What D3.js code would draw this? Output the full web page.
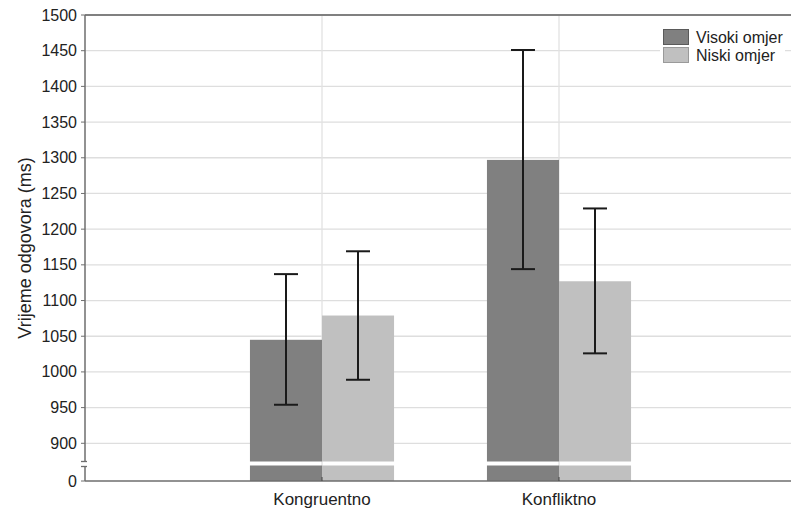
<!DOCTYPE html>
<html>
<head>
<meta charset="utf-8">
<script src="https://cdn.jsdelivr.net/npm/d3@7"></script>
<style>
body { margin: 0; background: #fff; }
text { font-family: "Liberation Sans", Arial, sans-serif; fill: #222; }
</style>
</head>
<body>
<div id="my_dataviz"></div>
<script>
var categories = ["Kongruentno", "Konfliktno"];
var seriesNames = ["Visoki omjer", "Niski omjer"];
var seriesColors = ["#808080", "#c0c0c0"];
// mean, lower and upper error per category
var visokiMean = [1045, 1297];
var visokiLow = [954, 1144];
var visokiHigh = [1137, 1451];
var niskiMean = [1079, 1127];
var niskiLow = [989, 1026];
var niskiHigh = [1169, 1229];
var yTicks = [900, 950, 1000, 1050, 1100, 1150, 1200, 1250, 1300, 1350, 1400, 1450, 1500];

var width = 791, height = 511;
var plotLeft = 85, plotTop = 15, plotBottom = 481;
var breakTop = 461.5, breakBottom = 465.5;

var svg = d3.select("#my_dataviz")
    .append("svg")
    .attr("width", width)
    .attr("height", height);

var xAxis = d3.scaleLinear().domain([0, 3]).range([plotLeft, 796]);
var yAxis = d3.scaleLinear().domain([900, 1500]).range([443.3, plotTop]);
var yLow = d3.scaleLinear().domain([0, 100]).range([plotBottom, plotBottom - 100]);

// grid
svg.append("g").selectAll("line")
    .data(yTicks)
    .enter()
    .append("line")
    .attr("x1", plotLeft).attr("x2", width)
    .attr("y1", function (d) { return yAxis(d); })
    .attr("y2", function (d) { return yAxis(d); })
    .attr("stroke", "#dedede")
    .attr("stroke-width", 1.3);

svg.append("g").selectAll("line")
    .data(categories)
    .enter()
    .append("line")
    .attr("x1", function (d, i) { return xAxis(i + 1); })
    .attr("x2", function (d, i) { return xAxis(i + 1); })
    .attr("y1", plotTop).attr("y2", plotBottom)
    .attr("stroke", "#e2e2e2")
    .attr("stroke-width", 1.3);

var series = [
    { mean: visokiMean, low: visokiLow, high: visokiHigh },
    { mean: niskiMean, low: niskiLow, high: niskiHigh }
];
var barW = 0.304;

series.forEach(function (s, k) {
    var g = svg.append("g");
    var xStart = function (i) { return xAxis(i + 1 + (k == 0 ? -barW : 0)); };
    var w = xAxis(barW) - xAxis(0);
    // upper part above the break
    g.selectAll(".up")
        .data(s.mean)
        .enter()
        .append("rect")
        .attr("x", function (d, i) { return xStart(i); })
        .attr("y", function (d) { return yAxis(d); })
        .attr("width", w)
        .attr("height", function (d) { return breakTop - yAxis(d); })
        .attr("fill", seriesColors[k]);
    // lower part below the break
    g.selectAll(".down")
        .data(s.mean)
        .enter()
        .append("rect")
        .attr("x", function (d, i) { return xStart(i); })
        .attr("y", breakBottom)
        .attr("width", w)
        .attr("height", yLow(0) - breakBottom)
        .attr("fill", seriesColors[k]);

    // error bars
    var cx = function (i) { return xStart(i) + w / 2; };
    g.selectAll(".err")
        .data(s.mean)
        .enter()
        .append("line")
        .attr("x1", function (d, i) { return cx(i); })
        .attr("x2", function (d, i) { return cx(i); })
        .attr("y1", function (d, i) { return yAxis(s.low[i]); })
        .attr("y2", function (d, i) { return yAxis(s.high[i]); })
        .attr("stroke", "#1a1a1a")
        .attr("stroke-width", 2);
    [s.low, s.high].forEach(function (arr) {
        g.selectAll(".cap")
            .data(arr)
            .enter()
            .append("line")
            .attr("x1", function (d, i) { return cx(i) - 12; })
            .attr("x2", function (d, i) { return cx(i) + 12; })
            .attr("y1", function (d) { return yAxis(d); })
            .attr("y2", function (d) { return yAxis(d); })
            .attr("stroke", "#1a1a1a")
            .attr("stroke-width", 2);
    });
});

// frame: top line, bottom axis, left axis with break
svg.append("line")
    .attr("x1", plotLeft).attr("x2", width)
    .attr("y1", plotTop).attr("y2", plotTop)
    .attr("stroke", "#808080").attr("stroke-width", 2);
svg.append("line")
    .attr("x1", plotLeft).attr("x2", width)
    .attr("y1", plotBottom).attr("y2", plotBottom)
    .attr("stroke", "#6e6e6e").attr("stroke-width", 1.5);
svg.append("line")
    .attr("x1", plotLeft).attr("x2", plotLeft)
    .attr("y1", plotTop).attr("y2", breakTop)
    .attr("stroke", "#6e6e6e").attr("stroke-width", 1.5);
svg.append("line")
    .attr("x1", plotLeft).attr("x2", plotLeft)
    .attr("y1", breakBottom + 1).attr("y2", plotBottom)
    .attr("stroke", "#6e6e6e").attr("stroke-width", 1.5);
[breakTop, breakBottom + 1].forEach(function (y) {
    svg.append("line")
        .attr("x1", plotLeft - 4).attr("x2", plotLeft + 2)
        .attr("y1", y).attr("y2", y)
        .attr("stroke", "#6e6e6e").attr("stroke-width", 1.3);
});

// y ticks
var tickG = svg.append("g");
tickG.selectAll("line")
    .data(yTicks)
    .enter()
    .append("line")
    .attr("x1", plotLeft - 4).attr("x2", plotLeft)
    .attr("y1", function (d) { return yAxis(d); })
    .attr("y2", function (d) { return yAxis(d); })
    .attr("stroke", "#6e6e6e");
tickG.selectAll("text")
    .data(yTicks)
    .enter()
    .append("text")
    .attr("x", 77)
    .attr("y", function (d) { return yAxis(d) + 5.5; })
    .attr("text-anchor", "end")
    .style("font-size", "16px")
    .text(function (d) { return d; });
svg.append("line")
    .attr("x1", plotLeft - 4).attr("x2", plotLeft)
    .attr("y1", yLow(0)).attr("y2", yLow(0))
    .attr("stroke", "#6e6e6e");
svg.append("text")
    .attr("x", 77)
    .attr("y", yLow(0) + 5.5)
    .attr("text-anchor", "end")
    .style("font-size", "16px")
    .text("0");

// x ticks and labels
svg.append("g").selectAll("line")
    .data(categories)
    .enter()
    .append("line")
    .attr("x1", function (d, i) { return xAxis(i + 1); })
    .attr("x2", function (d, i) { return xAxis(i + 1); })
    .attr("y1", plotBottom).attr("y2", plotBottom - 4)
    .attr("stroke", "#444");
svg.append("g").selectAll("text")
    .data(categories)
    .enter()
    .append("text")
    .attr("x", function (d, i) { return xAxis(i + 1); })
    .attr("y", 505)
    .attr("text-anchor", "middle")
    .style("font-size", "17px")
    .text(function (d) { return d; });

// y title
svg.append("text")
    .attr("transform", "translate(31," + ((plotTop + plotBottom) / 2) + ") rotate(-90)")
    .attr("text-anchor", "middle")
    .style("font-size", "18px")
    .text("Vrijeme odgovora (ms)");

// legend
var legend = svg.append("g");
legend.append("rect")
    .attr("x", 660).attr("y", 26)
    .attr("width", 125).attr("height", 40)
    .attr("fill", "#fff");
seriesNames.forEach(function (name, i) {
    legend.append("rect")
        .attr("x", 663.5).attr("y", 29.5 + i * 18)
        .attr("width", 25).attr("height", 15)
        .attr("fill", seriesColors[i])
        .attr("stroke", i == 0 ? "#5a5a5a" : "#9a9a9a")
        .attr("stroke-width", 1);
    legend.append("text")
        .attr("x", 696)
        .attr("y", 42.5 + i * 18)
        .style("font-size", "16px")
        .text(name);
});
</script>
</body>
</html>
